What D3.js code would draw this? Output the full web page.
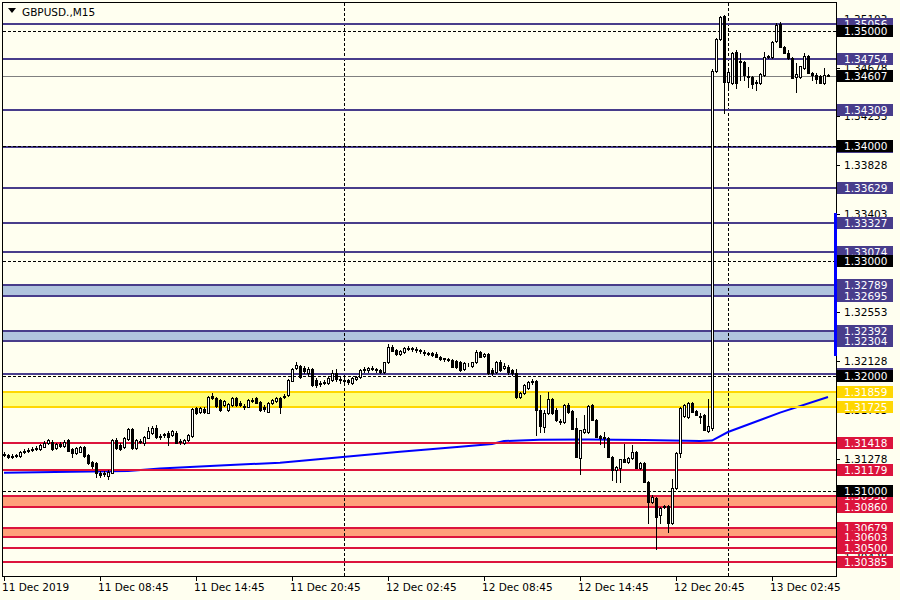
<!DOCTYPE html>
<html><head><meta charset="utf-8">
<script src="https://cdn.jsdelivr.net/npm/d3@7/dist/d3.min.js"></script>
<style>html,body{margin:0;padding:0;background:#FFFFF0;}svg{display:block;}</style>
</head><body>
<svg id="c" width="900" height="600"></svg>
<script>
// ---------- DATA ----------
const symbolTitle = "GBPUSD.,M15";
const openP = [1.31311,1.31311,1.31294,1.31302,1.31302,1.31337,1.31346,1.31355,1.31372,1.31363,1.31380,1.31415,1.31424,1.31372,1.31407,1.31389,1.31441,1.31363,1.31329,1.31337,1.31380,1.31311,1.31250,1.31242,1.31155,1.31146,1.31129,1.31155,1.31441,1.31398,1.31380,1.31450,1.31537,1.31372,1.31432,1.31415,1.31459,1.31502,1.31546,1.31476,1.31485,1.31502,1.31485,1.31502,1.31432,1.31415,1.31441,1.31476,1.31720,1.31685,1.31711,1.31676,1.31824,1.31807,1.31789,1.31746,1.31702,1.31746,1.31807,1.31763,1.31737,1.31728,1.31780,1.31807,1.31772,1.31728,1.31685,1.31763,1.31780,1.31807,1.31816,1.31833,1.31954,1.32067,1.32085,1.32067,1.32024,1.32059,1.31963,1.31928,1.31937,1.31937,1.31963,1.32024,1.31972,1.31963,1.31963,1.31937,1.31972,1.31989,1.32050,1.32050,1.32067,1.32059,1.32050,1.32032,1.32119,1.32250,1.32224,1.32189,1.32206,1.32232,1.32241,1.32232,1.32224,1.32206,1.32198,1.32198,1.32189,1.32163,1.32145,1.32137,1.32137,1.32128,1.32119,1.32059,1.32102,1.32085,1.32119,1.32206,1.32172,1.32189,1.32050,1.32032,1.32119,1.32067,1.32076,1.32050,1.32024,1.31816,1.31851,1.31893,1.31946,1.31954,1.31702,1.31554,1.31676,1.31798,1.31702,1.31607,1.31598,1.31746,1.31693,1.31546,1.31285,1.31511,1.31511,1.31746,1.31615,1.31476,1.31467,1.31459,1.31294,1.31181,1.31198,1.31276,1.31250,1.31285,1.31337,1.31198,1.31242,1.31077,1.30903,1.30937,1.30790,1.30859,1.30868,1.30720,1.31024,1.31329,1.31650,1.31641,1.31763,1.31693,1.31650,1.31659,1.31519,1.31546,1.34648,1.34926,1.35126,1.34552,1.34544,1.34813,1.34726,1.34726,1.34605,1.34596,1.34552,1.34544,1.34613,1.34770,1.34770,1.34909,1.35056,1.34857,1.34804,1.34761,1.34596,1.34596,1.34674,1.34778,1.34631,1.34613,1.34605,1.34544,1.34613];
const highP = [1.31337,1.31320,1.31320,1.31320,1.31346,1.31363,1.31372,1.31380,1.31389,1.31407,1.31432,1.31450,1.31441,1.31415,1.31424,1.31441,1.31450,1.31372,1.31380,1.31389,1.31389,1.31320,1.31259,1.31250,1.31172,1.31172,1.31181,1.31450,1.31459,1.31415,1.31467,1.31546,1.31546,1.31450,1.31450,1.31476,1.31554,1.31563,1.31572,1.31493,1.31502,1.31519,1.31528,1.31519,1.31450,1.31450,1.31493,1.31720,1.31728,1.31728,1.31728,1.31824,1.31851,1.31816,1.31798,1.31789,1.31763,1.31816,1.31816,1.31780,1.31754,1.31798,1.31807,1.31816,1.31780,1.31746,1.31772,1.31798,1.31816,1.31816,1.31842,1.31972,1.32067,1.32119,1.32093,1.32085,1.32076,1.32067,1.31980,1.31954,1.31963,1.31998,1.32050,1.32059,1.31989,1.31998,1.31972,1.31989,1.31998,1.32059,1.32076,1.32076,1.32085,1.32067,1.32059,1.32119,1.32276,1.32267,1.32232,1.32224,1.32250,1.32259,1.32250,1.32250,1.32232,1.32224,1.32206,1.32206,1.32206,1.32172,1.32154,1.32154,1.32145,1.32137,1.32128,1.32119,1.32111,1.32119,1.32224,1.32215,1.32198,1.32198,1.32067,1.32128,1.32137,1.32111,1.32093,1.32059,1.32059,1.31859,1.31928,1.31954,1.31972,1.31963,1.31833,1.31702,1.31859,1.31807,1.31720,1.31624,1.31754,1.31763,1.31702,1.31633,1.31528,1.31659,1.31746,1.31754,1.31624,1.31485,1.31511,1.31467,1.31302,1.31216,1.31276,1.31407,1.31294,1.31398,1.31346,1.31250,1.31250,1.31085,1.30964,1.30946,1.30859,1.30877,1.30877,1.31103,1.31337,1.31728,1.31754,1.31772,1.31772,1.31702,1.31676,1.31667,1.31798,1.34665,1.34935,1.35126,1.35135,1.34657,1.34813,1.34831,1.34804,1.34735,1.34683,1.34605,1.34570,1.34631,1.34813,1.34787,1.34909,1.35065,1.35074,1.34865,1.34831,1.34770,1.34718,1.34691,1.34804,1.34787,1.34639,1.34631,1.34613,1.34674,1.34622];
const lowP = [1.31302,1.31285,1.31285,1.31294,1.31294,1.31329,1.31337,1.31346,1.31355,1.31355,1.31380,1.31407,1.31355,1.31363,1.31380,1.31380,1.31346,1.31294,1.31320,1.31337,1.31294,1.31233,1.31198,1.31120,1.31120,1.31129,1.31103,1.31155,1.31363,1.31355,1.31372,1.31441,1.31363,1.31363,1.31415,1.31398,1.31459,1.31493,1.31459,1.31450,1.31467,1.31398,1.31476,1.31415,1.31407,1.31407,1.31432,1.31467,1.31667,1.31676,1.31676,1.31676,1.31798,1.31728,1.31693,1.31737,1.31693,1.31737,1.31737,1.31737,1.31711,1.31728,1.31772,1.31763,1.31693,1.31693,1.31685,1.31754,1.31772,1.31676,1.31807,1.31824,1.31954,1.32059,1.31980,1.32024,1.32007,1.31911,1.31902,1.31911,1.31928,1.31928,1.31954,1.31954,1.31937,1.31928,1.31928,1.31928,1.31963,1.31980,1.32032,1.32032,1.32050,1.32032,1.32024,1.32024,1.32111,1.32215,1.32180,1.32180,1.32198,1.32224,1.32215,1.32206,1.32198,1.32180,1.32180,1.32172,1.32163,1.32137,1.32128,1.32128,1.32076,1.32067,1.32041,1.32050,1.32085,1.32076,1.32111,1.32163,1.32163,1.32015,1.32007,1.32024,1.32041,1.32059,1.32015,1.32007,1.31807,1.31807,1.31842,1.31885,1.31928,1.31485,1.31511,1.31511,1.31667,1.31667,1.31607,1.31580,1.31589,1.31676,1.31537,1.31294,1.31146,1.31502,1.31502,1.31615,1.31467,1.31407,1.31380,1.31294,1.31094,1.31077,1.31077,1.31250,1.31242,1.31276,1.31198,1.31189,1.31077,1.30720,1.30894,1.30494,1.30720,1.30850,1.30642,1.30711,1.31016,1.31294,1.31641,1.31633,1.31685,1.31659,1.31589,1.31528,1.31511,1.31528,1.34639,1.34917,1.34283,1.34500,1.34535,1.34500,1.34570,1.34570,1.34509,1.34500,1.34483,1.34535,1.34605,1.34761,1.34761,1.34900,1.34857,1.34804,1.34752,1.34587,1.34466,1.34587,1.34665,1.34631,1.34570,1.34544,1.34544,1.34535,1.34605];
const closeP = [1.31320,1.31294,1.31302,1.31311,1.31337,1.31346,1.31355,1.31363,1.31363,1.31398,1.31415,1.31441,1.31363,1.31407,1.31389,1.31424,1.31346,1.31329,1.31372,1.31380,1.31302,1.31242,1.31216,1.31155,1.31137,1.31155,1.31163,1.31441,1.31372,1.31363,1.31459,1.31537,1.31372,1.31441,1.31424,1.31467,1.31519,1.31546,1.31467,1.31467,1.31493,1.31467,1.31519,1.31415,1.31424,1.31441,1.31485,1.31711,1.31676,1.31720,1.31685,1.31816,1.31807,1.31737,1.31702,1.31780,1.31754,1.31807,1.31746,1.31746,1.31728,1.31789,1.31789,1.31763,1.31702,1.31711,1.31763,1.31789,1.31807,1.31728,1.31824,1.31963,1.32059,1.32093,1.31989,1.32041,1.32059,1.31919,1.31919,1.31937,1.31946,1.31980,1.32024,1.31972,1.31963,1.31954,1.31946,1.31980,1.31989,1.32050,1.32059,1.32067,1.32059,1.32050,1.32032,1.32119,1.32250,1.32215,1.32189,1.32215,1.32241,1.32241,1.32232,1.32224,1.32215,1.32198,1.32189,1.32180,1.32163,1.32145,1.32150,1.32145,1.32076,1.32076,1.32050,1.32111,1.32106,1.32119,1.32206,1.32163,1.32189,1.32024,1.32024,1.32119,1.32050,1.32085,1.32032,1.32024,1.31816,1.31851,1.31919,1.31946,1.31954,1.31702,1.31563,1.31676,1.31798,1.31676,1.31615,1.31598,1.31746,1.31685,1.31537,1.31294,1.31528,1.31537,1.31737,1.31615,1.31467,1.31459,1.31459,1.31294,1.31181,1.31207,1.31276,1.31250,1.31285,1.31337,1.31198,1.31242,1.31077,1.30903,1.30946,1.30773,1.30850,1.30868,1.30720,1.31024,1.31329,1.31720,1.31746,1.31763,1.31685,1.31659,1.31641,1.31528,1.31563,1.34648,1.34926,1.35117,1.34552,1.34639,1.34804,1.34544,1.34735,1.34613,1.34596,1.34535,1.34544,1.34622,1.34770,1.34778,1.34900,1.35048,1.34857,1.34804,1.34761,1.34587,1.34622,1.34691,1.34778,1.34631,1.34613,1.34578,1.34544,1.34613,1.34607];

// slow moving average (vertices: bar index, price)
const maBars = [0,17,31,39,54,69,84,99,114,122,125,129,134,146,160,174,177,181,194,206];
const maVals = [1.31157,1.31166,1.31172,1.31195,1.31220,1.31244,1.31291,1.31340,1.31383,1.31407,1.31433,1.31437,1.31444,1.31446,1.31441,1.31433,1.31437,1.31511,1.31680,1.31815];

// time axis
const timeTickBars = [0,24,48,72,96,120,144,168,192];
const timeLabels = ["11 Dec 2019","11 Dec 08:45","11 Dec 14:45","11 Dec 20:45","12 Dec 02:45","12 Dec 08:45","12 Dec 14:45","12 Dec 20:45","13 Dec 02:45"];
const daySeparatorBars = [85,181];

// price scale labels
const scaleLabels = [1.35103,1.34678,1.34253,1.33828,1.33403,1.32978,1.32553,1.32128,1.31703,1.31278,1.30853,1.30428];

// horizontal levels
const purpleLevels = [1.35056,1.34754,1.34309,1.33985,1.33629,1.33327,1.33074,1.32019];
const purpleBands = [[1.32789,1.32695],[1.32392,1.32304]];
const yellowBands = [[1.31859,1.31725]];
const redLevels = [1.31418,1.31179,1.30500,1.30385];
const redBands = [[1.30958,1.30860],[1.30679,1.30603]];
const roundLevels = [1.35000,1.34000,1.33000,1.32000,1.31000];
const bidPrice = 1.34607;
const rangeBar = [1.33403,1.32178];

// ---------- DRAW ----------
const svg = d3.select('#c');
const FONT = "'DejaVu Sans', Verdana, sans-serif";
const L = 3, R = 836, T = 3, B = 576;
const x = d3.scaleLinear().domain([0, 1]).range([4, 8]);
const y = d3.scaleLinear().domain([1.30260, 1.35239]).range([B, T]);
const ry = p => Math.round(y(p));

const C = {bg:'#FFFFF0', purple:'#483D8B', band:'#B0C4DE', yellowFill:'#FFFF80', gold:'#FFD700',
           red:'#DC143C', salmon:'#FFA07A', blue:'#0000FF', grey:'#808080'};

svg.append('rect').attr('width',900).attr('height',600).attr('fill',C.bg);

const plot = svg.append('g');
svg.append('clipPath').attr('id','pc').append('rect').attr('x',L).attr('y',T).attr('width',R-L).attr('height',B-T);
plot.attr('clip-path','url(#pc)');

function bandFill(arr, fill){
  arr.forEach(b=>{
    const y1 = ry(b[0]), y2 = ry(b[1]);
    plot.append('rect').attr('x',L).attr('width',R-L).attr('y',y1).attr('height',y2-y1).attr('fill',fill);
  });
}
bandFill(purpleBands, C.band);
bandFill(yellowBands, C.yellowFill);
bandFill(redBands, C.salmon);

daySeparatorBars.forEach(b=>{
  plot.append('line').attr('x1',x(b)+0.5).attr('x2',x(b)+0.5).attr('y1',T).attr('y2',B)
    .attr('stroke','#000').attr('stroke-width',1).attr('stroke-dasharray','3,2');
});

const maData = maBars.map((b,i)=>({b, v:maVals[i]}));
plot.append('path').datum(maData)
  .attr('d', d3.line().x(d=>x(d.b)).y(d=>y(d.v)))
  .attr('fill','none').attr('stroke',C.blue).attr('stroke-width',2);

function hline(p, color){
  const yy = ry(p);
  plot.append('rect').attr('x',L).attr('width',R-L).attr('y',yy-1).attr('height',2).attr('fill',color);
}
purpleLevels.forEach(p=>hline(p,C.purple));
purpleBands.forEach(b=>{hline(b[0],C.purple);hline(b[1],C.purple);});
yellowBands.forEach(b=>{hline(b[0],C.gold);hline(b[1],C.gold);});
redLevels.forEach(p=>hline(p,C.red));
redBands.forEach(b=>{hline(b[0],C.red);hline(b[1],C.red);});

roundLevels.forEach(p=>{
  const yy = ry(p)+0.5;
  plot.append('line').attr('x1',L).attr('x2',R).attr('y1',yy).attr('y2',yy)
    .attr('stroke','#000').attr('stroke-width',1).attr('stroke-dasharray','3,2');
});
plot.append('line').attr('x1',L).attr('x2',R).attr('y1',ry(bidPrice)+0.5).attr('y2',ry(bidPrice)+0.5)
  .attr('stroke',C.grey).attr('stroke-width',1);

const candles = openP.map((o,i)=>({i,o,h:highP[i],l:lowP[i],c:closeP[i]}));
const cg = plot.append('g');
candles.forEach(d=>{
  const cx = x(d.i);
  cg.append('line').attr('x1',cx+0.5).attr('x2',cx+0.5).attr('y1',ry(d.h)).attr('y2',ry(d.l)+1)
    .attr('stroke','#000').attr('stroke-width',1);
  const yt = ry(Math.max(d.o,d.c)), yb = ry(Math.min(d.o,d.c));
  const bull = d.c >= d.o;
  cg.append('rect').attr('x',cx-0.5).attr('width',2).attr('y',yt+0.5).attr('height',Math.max(0,yb-yt))
    .attr('fill',bull?'#FFFFFF':'#000').attr('stroke','#000').attr('stroke-width',1);
});

svg.append('rect').attr('x',L-0.5).attr('y',T-0.5).attr('width',R-L+1).attr('height',B-T+1)
  .attr('fill','none').attr('stroke','#000').attr('stroke-width',1);

svg.append('path').attr('d','M8,8 L16,8 L12,13 Z').attr('fill','#000');
svg.append('text').attr('x',22).attr('y',16).attr('font-family',FONT).attr('font-size','10.5px')
  .attr('fill','#000').text(symbolTitle);

const fmt = d3.format('.5f');
scaleLabels.forEach(p=>{
  const yy = ry(p);
  svg.append('line').attr('x1',R+1).attr('x2',R+4).attr('y1',yy+0.5).attr('y2',yy+0.5).attr('stroke','#000');
  svg.append('text').attr('x',844).attr('y',yy+4).attr('font-family',FONT).attr('font-size','10.5px')
    .attr('fill','#000').text(fmt(p));
});

function tag(p, bg, fg){
  const yy = ry(p);
  svg.append('rect').attr('x',837).attr('y',yy-6).attr('width',56).attr('height',12).attr('fill',bg);
  svg.append('text').attr('x',844).attr('y',yy+4).attr('font-family',FONT).attr('font-size','10.5px')
    .attr('fill',fg).text(fmt(p));
}
purpleLevels.forEach(p=>tag(p,C.purple,'#fff'));
purpleBands.forEach(b=>{tag(b[0],C.purple,'#fff');tag(b[1],C.purple,'#fff');});
yellowBands.forEach(b=>{tag(b[0],C.gold,'#fff');tag(b[1],C.gold,'#fff');});
redLevels.forEach(p=>tag(p,C.red,'#fff'));
redBands.forEach(b=>{tag(b[0],C.red,'#fff');tag(b[1],C.red,'#fff');});
roundLevels.forEach(p=>tag(p,'#000','#fff'));
tag(bidPrice,'#000','#fff');

svg.append('rect').attr('x',834).attr('width',3).attr('y',ry(rangeBar[0])-1)
  .attr('height',ry(rangeBar[1])-ry(rangeBar[0])+2).attr('fill',C.blue);

timeTickBars.forEach((b,i)=>{
  const tx = x(b);
  svg.append('line').attr('x1',tx+0.5).attr('x2',tx+0.5).attr('y1',B+1).attr('y2',B+5).attr('stroke','#000');
  svg.append('text').attr('x',tx-2).attr('y',591).attr('font-family',FONT).attr('font-size','10.5px')
    .attr('fill','#000').text(timeLabels[i]);
});
</script>
</body></html>
